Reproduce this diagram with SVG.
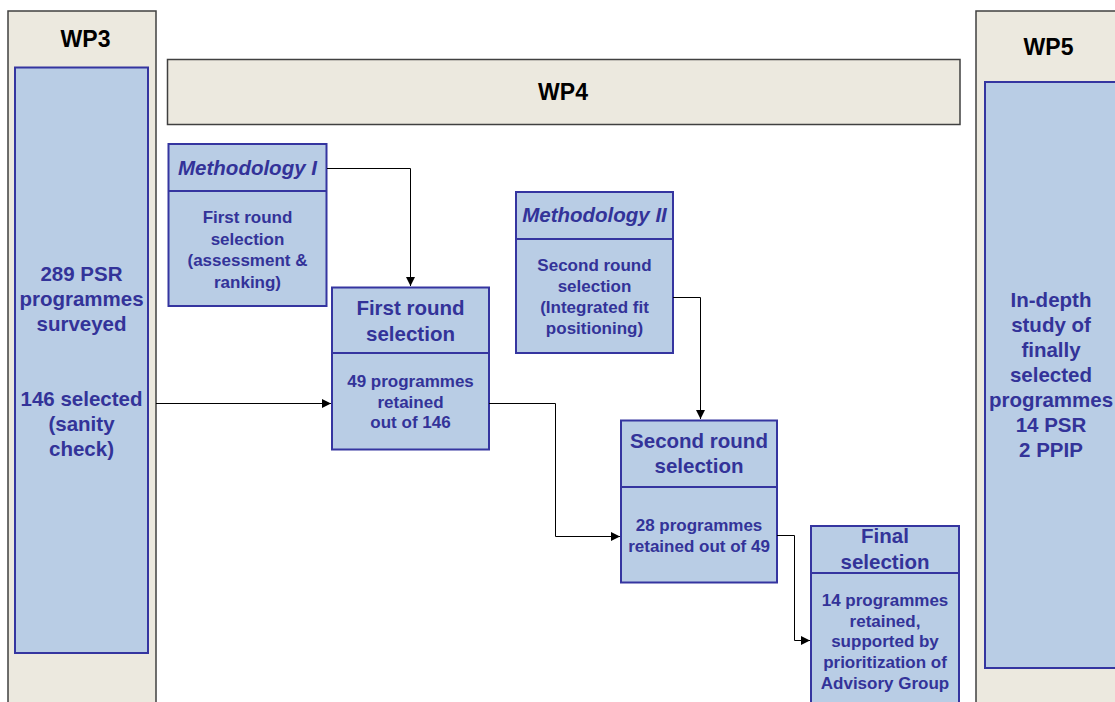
<svg xmlns="http://www.w3.org/2000/svg" width="1115" height="702" viewBox="0 0 1115 702">
<defs>
<marker id="arr" viewBox="0 0 10 10" refX="10" refY="5" markerWidth="9" markerHeight="9" markerUnits="userSpaceOnUse" orient="auto">
<path d="M0,0 L10,5 L0,10 z" fill="#000"/>
</marker>
</defs>
<style>
.panel{fill:#ECE9DF;stroke:#404040;stroke-width:1.5}
.box{fill:#B9CDE5;stroke:#3535A0;stroke-width:2}
.wp{font-family:"Liberation Sans",Arial,sans-serif;font-weight:bold;font-size:23px;fill:#000;text-anchor:middle}
.big{font-family:"Liberation Sans",Arial,sans-serif;font-weight:bold;font-size:20.5px;fill:#333399;text-anchor:middle}
.hd{font-family:"Liberation Sans",Arial,sans-serif;font-weight:bold;font-size:20.5px;fill:#333399;text-anchor:middle}
.it{font-family:"Liberation Sans",Arial,sans-serif;font-weight:bold;font-style:italic;font-size:20.5px;fill:#333399;text-anchor:middle}
.sm{font-family:"Liberation Sans",Arial,sans-serif;font-weight:bold;font-size:17px;fill:#333399;text-anchor:middle}
.conn{fill:none;stroke:#000;stroke-width:1}
</style>
<rect width="1115" height="702" fill="#fff"/>
<g id="wp3">
<rect class="panel" x="8" y="11" width="148" height="700"/>
<text class="wp" x="85.5" y="47">WP3</text>
<rect class="box" x="15" y="67.5" width="133" height="585.5"/>
<text class="big" x="81.5" y="281">289 PSR</text>
<text class="big" x="81.5" y="306">programmes</text>
<text class="big" x="81.5" y="331">surveyed</text>
<text class="big" x="81.5" y="406">146 selected</text>
<text class="big" x="81.5" y="431">(sanity</text>
<text class="big" x="81.5" y="456">check)</text>
</g>
<g id="wp4">
<rect class="panel" x="167.5" y="59.5" width="792.5" height="65"/>
<text class="wp" x="563" y="100">WP4</text>
</g>
<g id="wp5">
<rect class="panel" x="976" y="11" width="150" height="700"/>
<text class="wp" x="1048.5" y="55">WP5</text>
<rect class="box" x="985" y="82" width="140" height="586"/>
<text class="big" x="1051" y="307">In-depth</text>
<text class="big" x="1051" y="332">study of</text>
<text class="big" x="1051" y="357">finally</text>
<text class="big" x="1051" y="382">selected</text>
<text class="big" x="1051" y="407">programmes</text>
<text class="big" x="1051" y="432">14 PSR</text>
<text class="big" x="1051" y="457">2 PPIP</text>
</g>
<g id="meth1">
<rect class="box" x="168.5" y="144" width="158" height="162"/>
<line class="box" x1="168.5" y1="191" x2="326.5" y2="191"/>
<text class="it" x="247.5" y="175">Methodology I</text>
<text class="sm" x="247.5" y="223">First round</text>
<text class="sm" x="247.5" y="245">selection</text>
<text class="sm" x="247.5" y="266">(assessment &amp;</text>
<text class="sm" x="247.5" y="288">ranking)</text>
</g>
<g id="first">
<rect class="box" x="332" y="287.5" width="157" height="162"/>
<line class="box" x1="332" y1="353" x2="489" y2="353"/>
<text class="hd" x="410.5" y="315">First round</text>
<text class="hd" x="410.5" y="341">selection</text>
<text class="sm" x="410.5" y="387">49 programmes</text>
<text class="sm" x="410.5" y="408">retained</text>
<text class="sm" x="410.5" y="428">out of 146</text>
</g>
<g id="meth2">
<rect class="box" x="516" y="192" width="157" height="161"/>
<line class="box" x1="516" y1="239" x2="673" y2="239"/>
<text class="it" x="594.5" y="222">Methodology II</text>
<text class="sm" x="594.5" y="271">Second round</text>
<text class="sm" x="594.5" y="292">selection</text>
<text class="sm" x="594.5" y="313">(Integrated fit</text>
<text class="sm" x="594.5" y="334">positioning)</text>
</g>
<g id="second">
<rect class="box" x="621" y="420.5" width="156" height="162"/>
<line class="box" x1="621" y1="487" x2="777" y2="487"/>
<text class="hd" x="699" y="448">Second round</text>
<text class="hd" x="699" y="473">selection</text>
<text class="sm" x="699" y="531">28 programmes</text>
<text class="sm" x="699" y="552">retained out of 49</text>
</g>
<g id="final">
<rect class="box" x="811" y="526" width="148" height="190"/>
<line class="box" x1="811" y1="573" x2="959" y2="573"/>
<text class="hd" x="885" y="543">Final</text>
<text class="hd" x="885" y="569">selection</text>
<text class="sm" x="885" y="606">14 programmes</text>
<text class="sm" x="885" y="627">retained,</text>
<text class="sm" x="885" y="647">supported by</text>
<text class="sm" x="885" y="668">prioritization of</text>
<text class="sm" x="885" y="689">Advisory Group</text>
</g>
<g id="connectors">
<path class="conn" d="M327,168.5 H410.5 V286" marker-end="url(#arr)"/>
<path class="conn" d="M156,403.5 H331" marker-end="url(#arr)"/>
<path class="conn" d="M489,403.5 H555.5 V536.5 H620" marker-end="url(#arr)"/>
<path class="conn" d="M673,297.5 H700.5 V419" marker-end="url(#arr)"/>
<path class="conn" d="M777,535.5 H794.5 V640.5 H810" marker-end="url(#arr)"/>
</g>
</svg>
